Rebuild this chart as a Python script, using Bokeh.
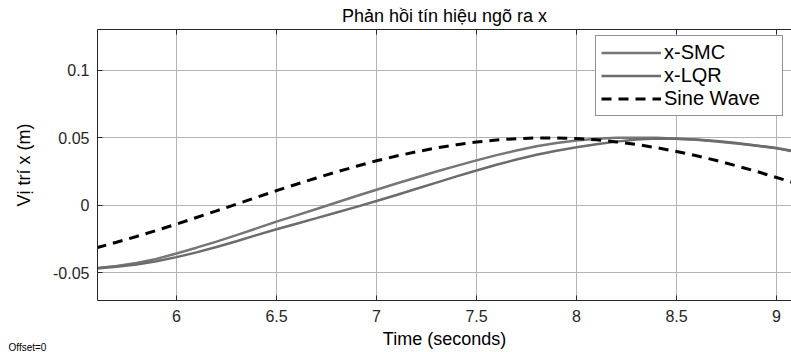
from bokeh.plotting import figure
from bokeh.models import Range1d, FixedTicker, LinearAxis, Legend, LegendItem, Title, ColumnDataSource
from bokeh.embed import file_html
from bokeh.resources import INLINE

# ---- data ----
time_s = [5.6, 5.7, 5.8, 5.9, 6.0, 6.1, 6.2, 6.3, 6.4, 6.5, 6.6, 6.7, 6.8, 6.9,
          7.0, 7.1, 7.2, 7.3, 7.4, 7.5, 7.6, 7.7, 7.8, 7.9, 8.0, 8.1, 8.2, 8.3,
          8.4, 8.5, 8.6, 8.7, 8.8, 8.9, 9.0, 9.1]
x_smc = [-0.0467, -0.0450, -0.0428, -0.0398, -0.0358, -0.0315, -0.0270, -0.0222,
         -0.0172, -0.0122, -0.0075, -0.0028, 0.0020, 0.0068, 0.0115, 0.0161,
         0.0206, 0.0250, 0.0292, 0.0333, 0.0372, 0.0406, 0.0437, 0.0462,
         0.0481, 0.0494, 0.0500, 0.0501, 0.0500, 0.0494, 0.0485, 0.0473,
         0.0458, 0.0442, 0.0422, 0.0395]
x_lqr = [-0.0470, -0.0457, -0.0440, -0.0415, -0.0385, -0.0350, -0.0310, -0.0267,
         -0.0222, -0.0178, -0.0137, -0.0096, -0.0054, -0.0012, 0.0031, 0.0076,
         0.0122, 0.0168, 0.0214, 0.0258, 0.0300, 0.0339, 0.0374, 0.0404,
         0.0430, 0.0453, 0.0472, 0.0487, 0.0495, 0.0494, 0.0487, 0.0476,
         0.0461, 0.0444, 0.0424, 0.0398]
sine_wave = [-0.0316, -0.0275, -0.0232, -0.0187, -0.0140, -0.0091, -0.0042, 0.0008,
             0.0058, 0.0108, 0.0156, 0.0202, 0.0247, 0.0289, 0.0330, 0.0365,
             0.0397, 0.0425, 0.0449, 0.0469, 0.0484, 0.0494, 0.0499, 0.0499,
             0.0495, 0.0485, 0.0470, 0.0451, 0.0427, 0.0399, 0.0367, 0.0332,
             0.0292, 0.0251, 0.0206, 0.0160]
series_names = ["x-SMC", "x-LQR", "Sine Wave"]
x_ticks = [6, 6.5, 7, 7.5, 8, 8.5, 9]
x_tick_labels = ["6", "6.5", "7", "7.5", "8", "8.5", "9"]
y_ticks = [-0.05, 0, 0.05, 0.1]
y_tick_labels = ["-0.05", "0", "0.05", "0.1"]

FONT = "Liberation Sans"
TXT = "#262626"

src = ColumnDataSource(dict(t=time_s, smc=x_smc, lqr=x_lqr, sine=sine_wave))

p = figure(width=791, height=352, output_backend="svg", toolbar_location=None,
           x_range=Range1d(5.605, 9.075), y_range=Range1d(-0.0707, 0.1304),
           min_border_left=97, min_border_right=0, min_border_top=29,
           min_border_bottom=52, title="Phản hồi tín hiệu ngõ ra x")

p.title.align = "center"
p.title.text_font = FONT
p.title.text_font_size = "18px"
p.title.text_font_style = "normal"
p.title.text_color = "#000000"
p.title.standoff = 7
p.title.offset = 0

p.outline_line_color = None
p.background_fill_color = "white"
p.border_fill_color = "white"

for ax, ticks, labels in ((p.xaxis[0], x_ticks, x_tick_labels), (p.yaxis[0], y_ticks, y_tick_labels)):
    ax.ticker = FixedTicker(ticks=ticks)
    ax.major_label_overrides = {tk: lb for tk, lb in zip(ticks, labels)}
    ax.major_tick_in = 5
    ax.major_tick_out = 0
    ax.minor_tick_line_color = None
    ax.axis_line_color = TXT
    ax.major_tick_line_color = TXT
    ax.major_label_text_font = FONT
    ax.major_label_text_font_size = "16px"
    ax.major_label_text_color = TXT
    ax.axis_label_text_font = FONT
    ax.axis_label_text_font_size = "18px"
    ax.axis_label_text_font_style = "normal"
    ax.axis_label_text_color = "#000000"

p.xaxis.axis_label = "Time (seconds)"
p.yaxis.axis_label = "Vị trí x (m)"
p.xaxis.major_label_standoff = 9
p.xaxis.axis_label_standoff = 4
p.yaxis.major_label_standoff = 8
p.yaxis.axis_label_standoff = 16

# top border of the axes box (ticks only, no labels)
top_axis = LinearAxis(ticker=FixedTicker(ticks=x_ticks), major_label_text_color=None,
                      major_label_text_font_size="1px",
                      major_tick_in=5, major_tick_out=0, minor_tick_line_color=None,
                      axis_line_color=TXT, major_tick_line_color=TXT,
                      major_label_standoff=0)
p.add_layout(top_axis, "above")

p.xgrid.ticker = FixedTicker(ticks=x_ticks)
p.ygrid.ticker = FixedTicker(ticks=y_ticks)
p.grid.grid_line_color = "#b4b4b4"
p.grid.grid_line_width = 1

r_smc = p.line("t", "smc", source=src, line_color="#767676", line_width=2.5)
r_lqr = p.line("t", "lqr", source=src, line_color="#6c6c6c", line_width=2.5)
r_sine = p.line("t", "sine", source=src, line_color="black", line_width=3,
                line_dash="10 7")

legend = Legend(items=[LegendItem(label=series_names[0], renderers=[r_smc]),
                       LegendItem(label=series_names[1], renderers=[r_lqr]),
                       LegendItem(label=series_names[2], renderers=[r_sine])],
                location=(498, 184), label_text_font=FONT, label_text_font_size="20px",
                label_text_color="#000000", glyph_width=60, glyph_height=21,
                label_height=21, label_width=113, label_standoff=3, spacing=-1,
                padding=5, margin=0,
                border_line_color="#262626", border_line_width=1,
                background_fill_color="white", background_fill_alpha=1.0)
p.add_layout(legend)

offset_note = Title(text="Offset=0", align="left", vertical_align="top", offset=-89,
                    standoff=-20, text_font=FONT, text_font_size="10px",
                    text_font_style="normal", text_color="#000000")
p.add_layout(offset_note, "below")

open("out.html", "w").write(file_html(p, INLINE))
